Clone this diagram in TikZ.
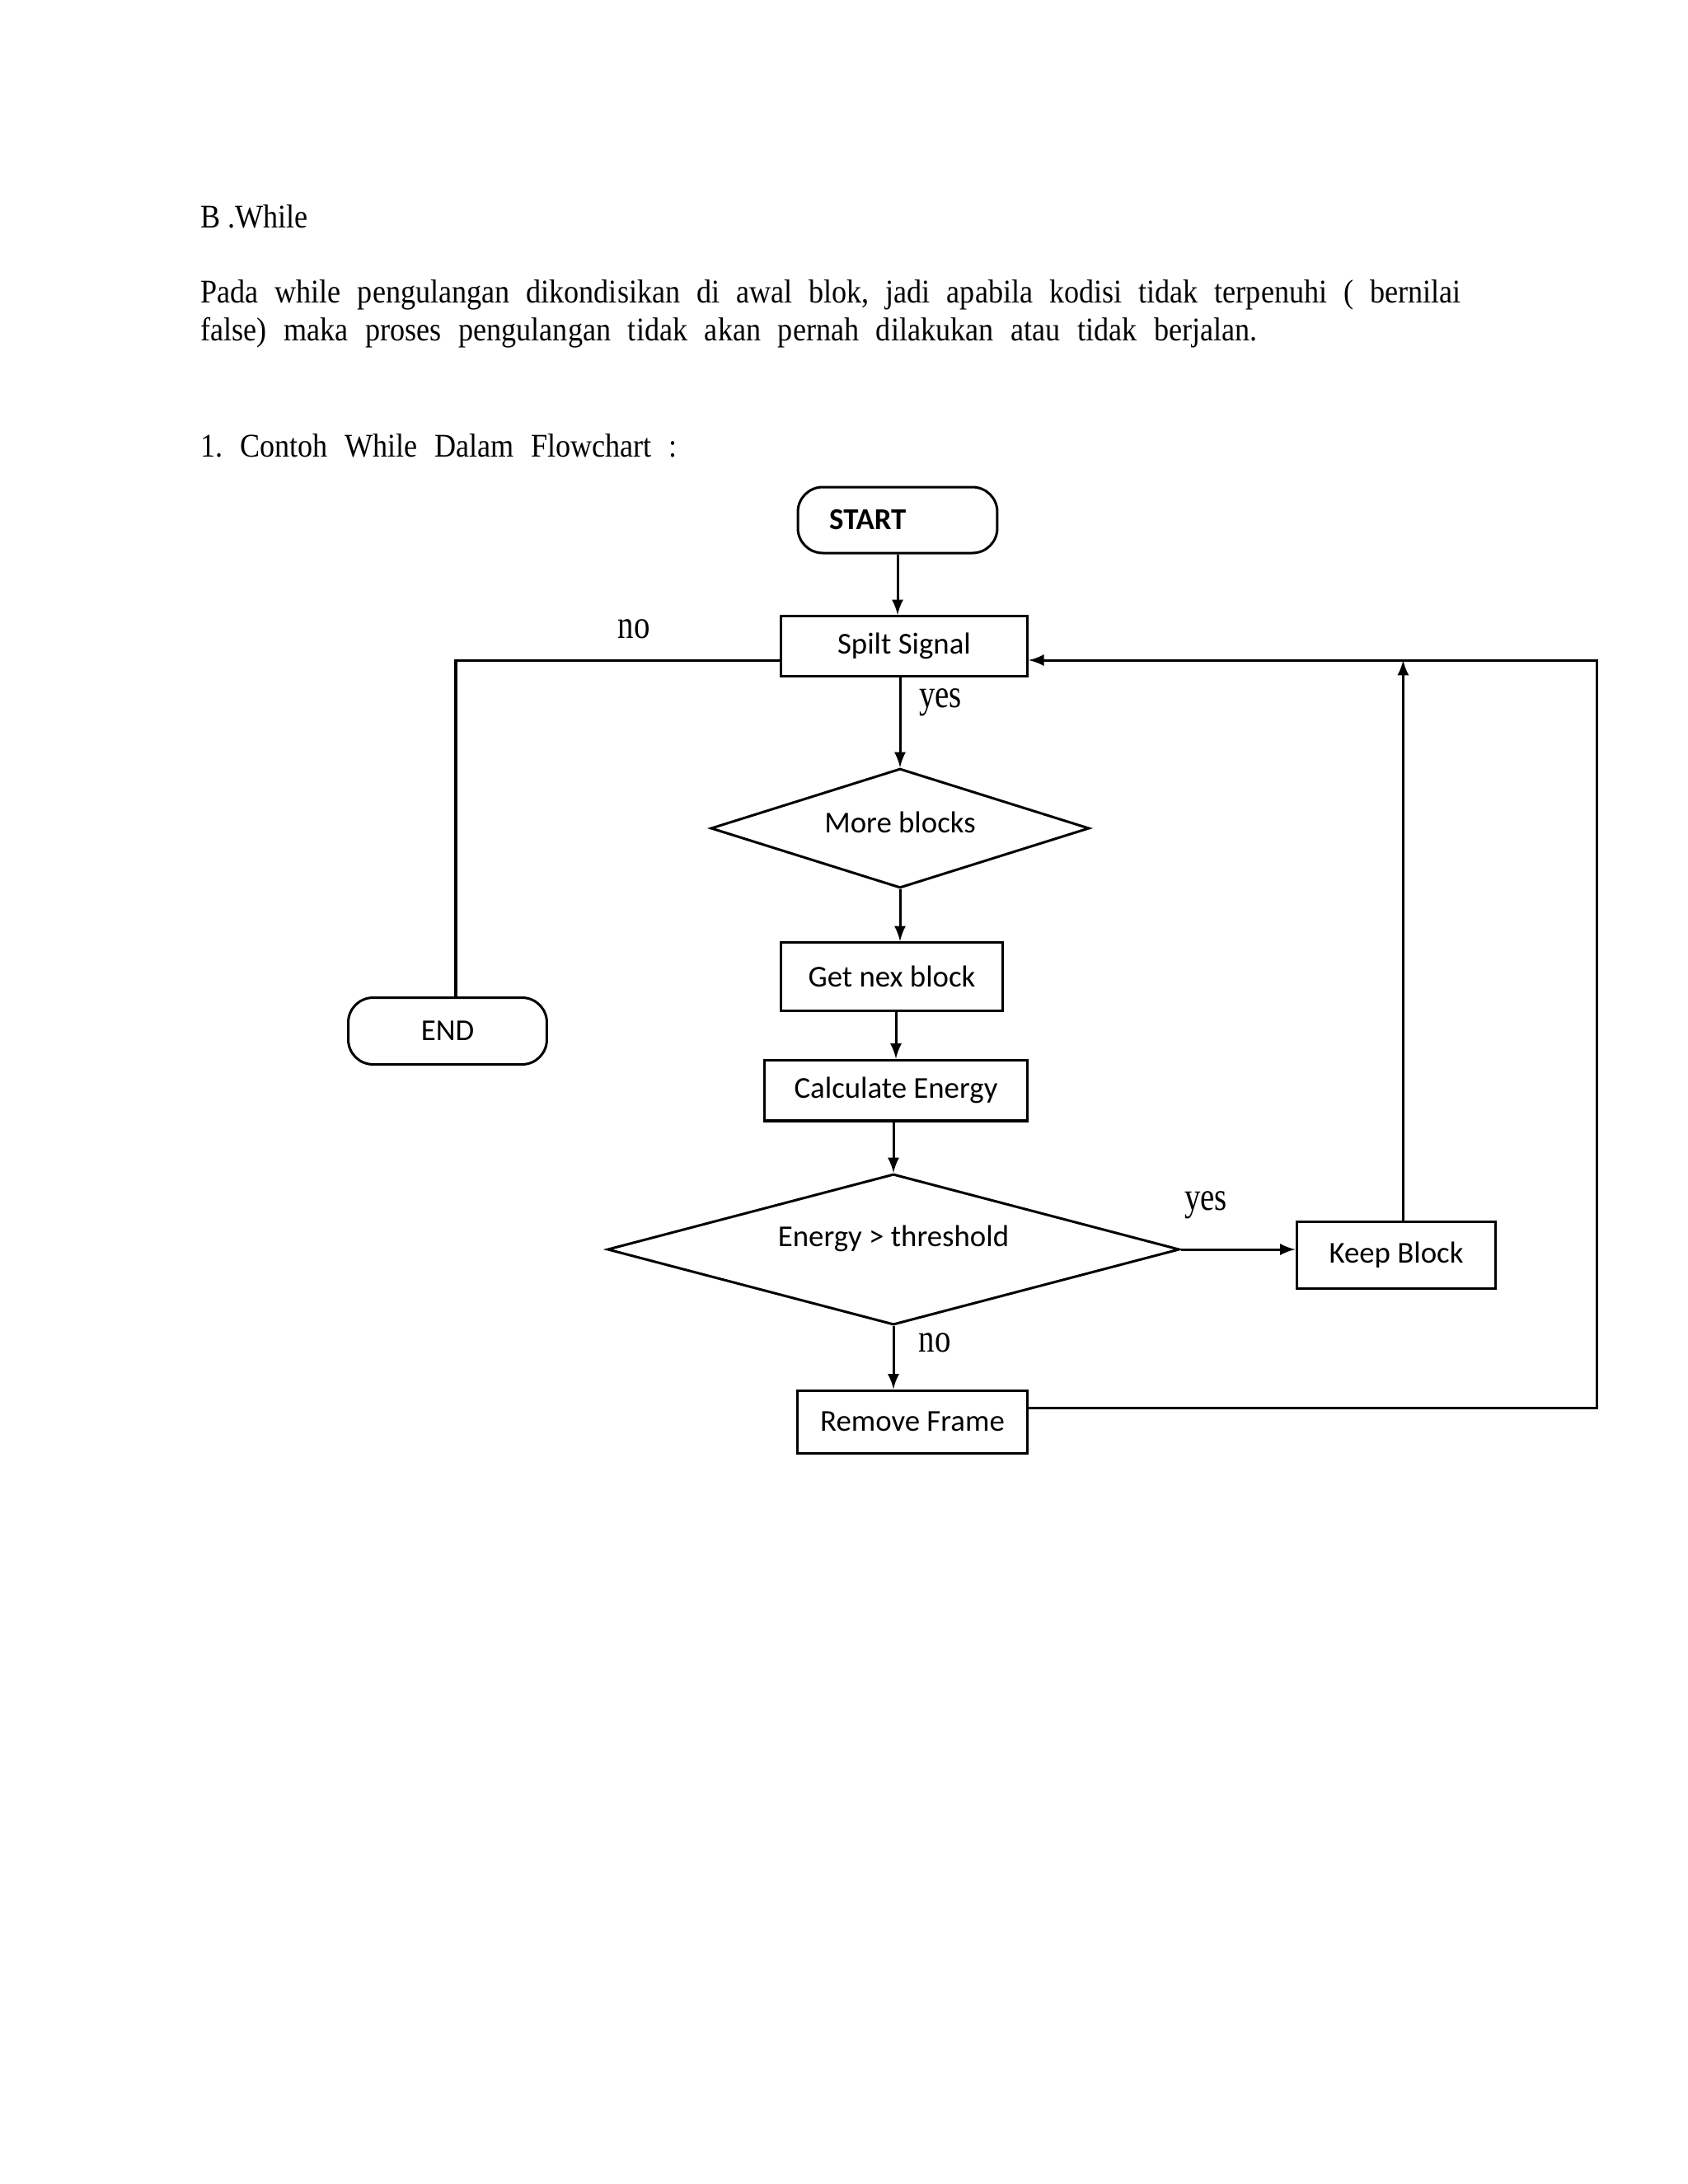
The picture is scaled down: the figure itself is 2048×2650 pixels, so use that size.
\documentclass[tikz,border=0pt]{standalone}
\usepackage{fontspec}
\setmainfont{Liberation Serif}[FakeStretch=0.9]
\newfontfamily\boxfont{Carlito}
\newfontfamily\lblfont[FakeStretch=0.8]{Liberation Serif}
\usetikzlibrary{shapes.geometric}
\frenchspacing
\tikzset{
  txt/.style={font=\fontsize{12}{14}\selectfont, inner sep=0pt, anchor=base west},
  proc/.style={draw, font=\boxfont\fontsize{11}{13}\selectfont, inner sep=0pt},
  term/.style={proc, rounded corners=9pt},
  cond/.style={proc, diamond, inner sep=2pt},
  lbl/.style={font=\lblfont\fontsize{14.5}{16}\selectfont, inner sep=0pt, anchor=base}
}
\begin{document}
\begin{tikzpicture}[>=latex, x=0.29883pt, y=-0.29883pt, line width=.9pt]
\useasboundingbox (0,0) rectangle (2048,2650);
% teks
\node[txt] (judul) at (242,276) {B .While};
\node[txt] (par1) at (242,367) {\makebox[456.9pt][s]{Pada while pengulangan dikondisikan di awal blok, jadi apabila kodisi tidak terpenuhi ( bernilai}};
\node[txt] (par2) at (242,413) {\makebox[383.1pt][s]{false) maka proses pengulangan tidak akan pernah dilakukan atau tidak berjalan.}};
\node[txt] (contoh) at (242,554) {\makebox[172.7pt][s]{1. Contoh While Dalam Flowchart :}};
% flowchart
\node[term, minimum width=72.3pt, minimum height=23.9pt, inner xsep=11.4pt, text width=49.5pt, align=left] (start) at (1089,631) {\textbf{START}};
\node[proc, minimum width=89.4pt, minimum height=21.8pt] (spilt) at (1097,784) {Spilt Signal};
\node[cond, minimum width=137.2pt, minimum height=43.3pt, aspect=3.2, text height=8pt, text depth=5pt] (more) at (1092,1005) {More blocks};
\node[proc, minimum width=80.4pt, minimum height=24.8pt] (getnext) at (1082,1185) {Get nex block};
\node[proc, minimum width=95.3pt, minimum height=22.1pt] (calc) at (1087,1323) {Calculate Energy};
\node[cond, minimum width=207.4pt, minimum height=54.7pt, aspect=3.8, text height=8pt, text depth=10pt] (energy) at (1084,1516) {Energy > threshold};
\node[proc, minimum width=72.3pt, minimum height=24.2pt] (keep) at (1694,1523) {Keep Block};
\node[proc, minimum width=83.4pt, minimum height=22.7pt] (remove) at (1107,1725) {Remove Frame};
\node[term, minimum width=72pt, minimum height=24.2pt] (end) at (543,1251) {END};
\coordinate (rtop) at (1937,801);
\coordinate (ltop) at (553,801);
% panah
\draw[->] (start.south) -- (start.south |- spilt.north);
\draw[->] (more.north |- spilt.south) -- (more.north);
\draw (ltop -| spilt.west) -- (ltop) -- (ltop |- end.north);
\draw[->] (more.south) -- (more.south |- getnext.north);
\draw[->] (calc.north |- getnext.south) -- (calc.north);
\draw[->] (energy.north |- calc.south) -- (energy.north);
\draw[->] (energy.east) -- (energy.east -| keep.west);
\draw[->] ([xshift=2.5pt]keep.north) -- ([xshift=2.5pt]keep.north |- rtop);
\draw[->] ([yshift=5pt]remove.east) -| (rtop) -- (rtop -| spilt.east);
\draw[->] (energy.south) -- (energy.south |- remove.north);
% label
\node[lbl] (no1) at (769,774) {no};
\node[lbl] (yes1) at (1141,858) {yes};
\node[lbl] (yes2) at (1463,1468) {yes};
\node[lbl] (no2) at (1134,1640) {no};
\end{tikzpicture}
\end{document}
